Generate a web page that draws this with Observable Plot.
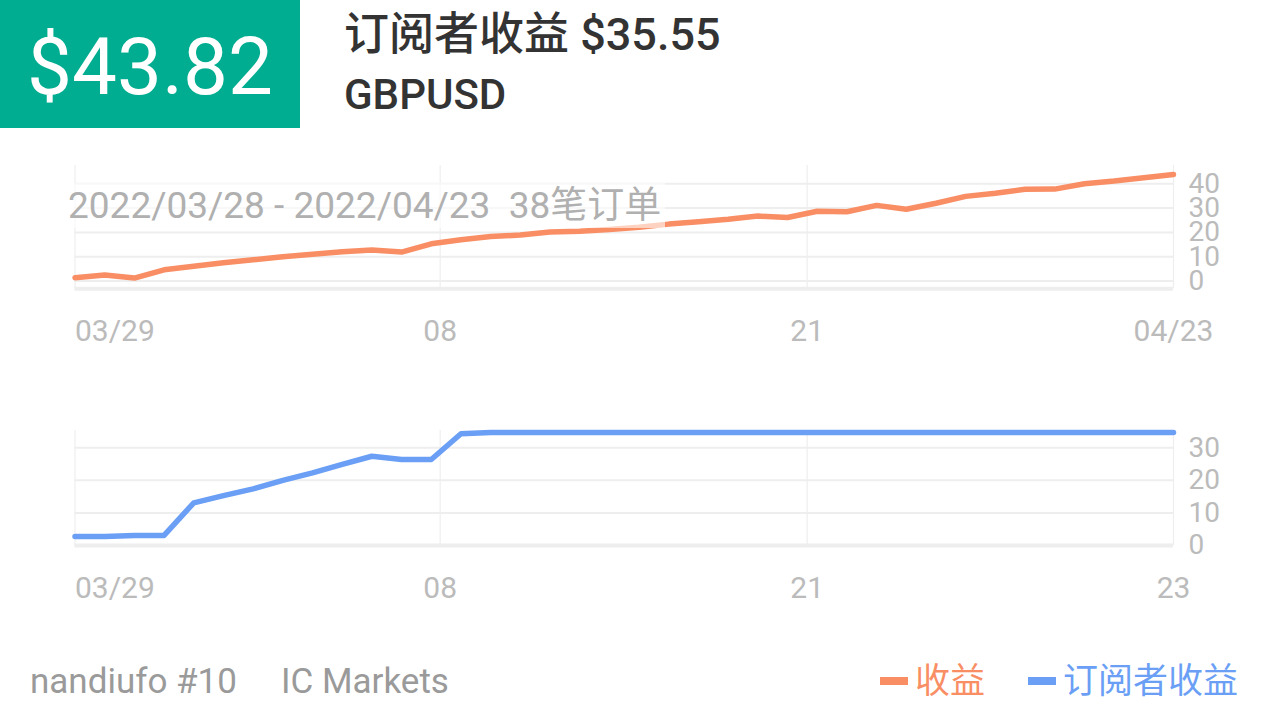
<!DOCTYPE html>
<html>
<head>
<meta charset="utf-8">
<script src="https://cdn.jsdelivr.net/npm/d3@7"></script>
<script src="https://cdn.jsdelivr.net/npm/@observablehq/plot@0.6"></script>
<style>
  html, body { margin: 0; padding: 0; background: #fff; }
  body { width: 1266px; height: 719px; position: relative; overflow: hidden;
         font-family: Roboto, "Noto Sans CJK SC", sans-serif; }
  .abs { position: absolute; white-space: nowrap; }
  #badge { left: 0; top: 0; width: 300px; height: 128px; background: #00ad90; color: #fff;
           font-size: 80px; line-height: 128px; text-align: center; padding-top: 3px; box-sizing: border-box; }
  #title { left: 344px; top: 12px; font-size: 45px; line-height: 46px; color: #333; font-weight: 500; }
  #sym { left: 344px; top: 74px; font-size: 42px; line-height: 42px; color: #333; font-weight: 500; }
  #range { left: 68px; top: 183px; height: 45px; font-size: 37px; line-height: 45px; color: #b0b0b0;
           background: rgba(255,255,255,0.6); padding-right: 4px; }
  .foot { top: 665px; font-size: 35px; line-height: 34px; color: #9a9a9a; }
  .leg { top: 665px; font-size: 35px; line-height: 34px; }
  .sw { top: 677px; width: 28px; height: 8px; }
  #chartTop, #chartBottom { position: absolute; left: 0; }
</style>
</head>
<body>
<div id="badge" class="abs"></div>
<div id="title" class="abs"></div>
<div id="sym" class="abs"></div>
<div id="chartTop"></div>
<div id="chartBottom"></div>
<div id="range" class="abs"></div>
<div id="foot1" class="abs foot" style="left:30px"></div>
<div id="foot2" class="abs foot" style="left:281px"></div>
<div class="abs sw" id="sw1" style="left:880px"></div>
<div class="abs leg" id="leg1" style="left:915px"></div>
<div class="abs sw" id="sw2" style="left:1028px"></div>
<div class="abs leg" id="leg2" style="left:1063px"></div>
<script>
// ---- data ----
const totalProfit = "$43.82";
const titleText = "订阅者收益 $35.55";
const symbol = "GBPUSD";
const rangeText = "2022/03/28 - 2022/04/23\u00a0\u00a038笔订单";
const footerTexts = ["nandiufo #10", "IC Markets"];
const seriesNames = ["收益", "订阅者收益"];
const seriesColors = ["#f98e65", "#6b9ff5"];

// cumulative profit (收益), one value per order
const profit = [1.3, 2.5, 1.2, 4.6, 6.1, 7.5, 8.7, 10.0, 11.0, 12.0, 12.8, 11.9, 15.3,
  17.0, 18.3, 18.9, 20.2, 20.5, 21.2, 22.1, 23.4, 24.4, 25.4, 26.7, 26.1, 28.7, 28.5,
  31.1, 29.5, 32.0, 34.8, 36.1, 37.7, 37.8, 40.0, 41.1, 42.5, 43.82];
// subscriber profit (订阅者收益)
const subProfit = [2.8, 2.8, 3.1, 3.1, 13.1, 15.3, 17.4, 20.0, 22.3, 24.9, 27.4, 26.4, 26.4,
  34.3, 34.7, 34.7, 34.7, 34.7, 34.7, 34.7, 34.7, 34.7, 34.7, 34.7, 34.7, 34.7, 34.7,
  34.7, 34.7, 34.7, 34.7, 34.7, 34.7, 34.7, 34.7, 34.7, 34.7, 34.7];

const xTicks = [0, 12.3, 24.66, 37];
const xLabelsTop = ["03/29", "08", "21", "04/23"];
const xLabelsBottom = ["03/29", "08", "21", "23"];
const yTicksTop = [0, 10, 20, 30, 40];
const yTicksBottom = [0, 10, 20, 30];
const yDomainTop = [-3.2, 47.5];
const yDomainBottom = [0, 35.3];

// ---- text ----
document.getElementById("badge").textContent = totalProfit;
document.getElementById("title").textContent = titleText;
document.getElementById("sym").textContent = symbol;
document.getElementById("range").textContent = rangeText;
document.getElementById("foot1").textContent = footerTexts[0];
document.getElementById("foot2").textContent = footerTexts[1];
document.getElementById("sw1").style.background = seriesColors[0];
document.getElementById("sw2").style.background = seriesColors[1];
document.getElementById("leg1").textContent = seriesNames[0];
document.getElementById("leg1").style.color = seriesColors[0];
document.getElementById("leg2").textContent = seriesNames[1];
document.getElementById("leg2").style.color = seriesColors[1];

function makeChart(values, color, yTicks, yDomain, xLabels, mt, mb, h) {
  const first = [{x: xTicks[0], t: xLabels[0]}];
  const rest = xTicks.slice(1).map((x, i) => ({x, t: xLabels[i + 1]}));
  return Plot.plot({
    width: 1266, height: h,
    marginTop: mt, marginBottom: mb, marginLeft: 74.5, marginRight: 93,
    x: {domain: [0, values.length - 1], axis: null},
    y: {domain: yDomain, axis: null},
    style: {fontFamily: "Roboto, 'Noto Sans CJK SC', sans-serif", color: "#bbb", background: "transparent", overflow: "visible"},
    marks: [
      Plot.gridX(xTicks, {stroke: "#eeeeee", strokeWidth: 1.2, strokeOpacity: 1}),
      Plot.gridY(yTicks, {stroke: "#eeeeee", strokeWidth: 2, strokeOpacity: 1}),
      Plot.ruleY([yDomain[0]], {stroke: "#eeeeee", strokeWidth: 4}),
      Plot.axisY(yTicks, {anchor: "right", tickSize: 0, tickPadding: 15, fontSize: 28, fill: "#bbb", textAnchor: "start"}),
      Plot.text(first, {x: "x", text: "t", frameAnchor: "bottom", dy: 52, fontSize: 30, fill: "#bbb", textAnchor: "start"}),
      Plot.text(rest, {x: "x", text: "t", frameAnchor: "bottom", dy: 52, fontSize: 30, fill: "#bbb", textAnchor: "middle"}),
      Plot.lineY(values, {stroke: color, strokeWidth: 5.5, strokeLinejoin: "round"})
    ]
  });
}

const topChart = makeChart(profit, seriesColors[0], yTicksTop, yDomainTop, xLabelsTop, 25, 71.7, 220);
const tc = document.getElementById("chartTop");
tc.style.top = "140px";
tc.appendChild(topChart);

const bottomChart = makeChart(subProfit, seriesColors[1], yTicksBottom, yDomainBottom, xLabelsBottom, 30, 75, 220);
const bc = document.getElementById("chartBottom");
bc.style.top = "400px";
bc.appendChild(bottomChart);
</script>
</body>
</html>
